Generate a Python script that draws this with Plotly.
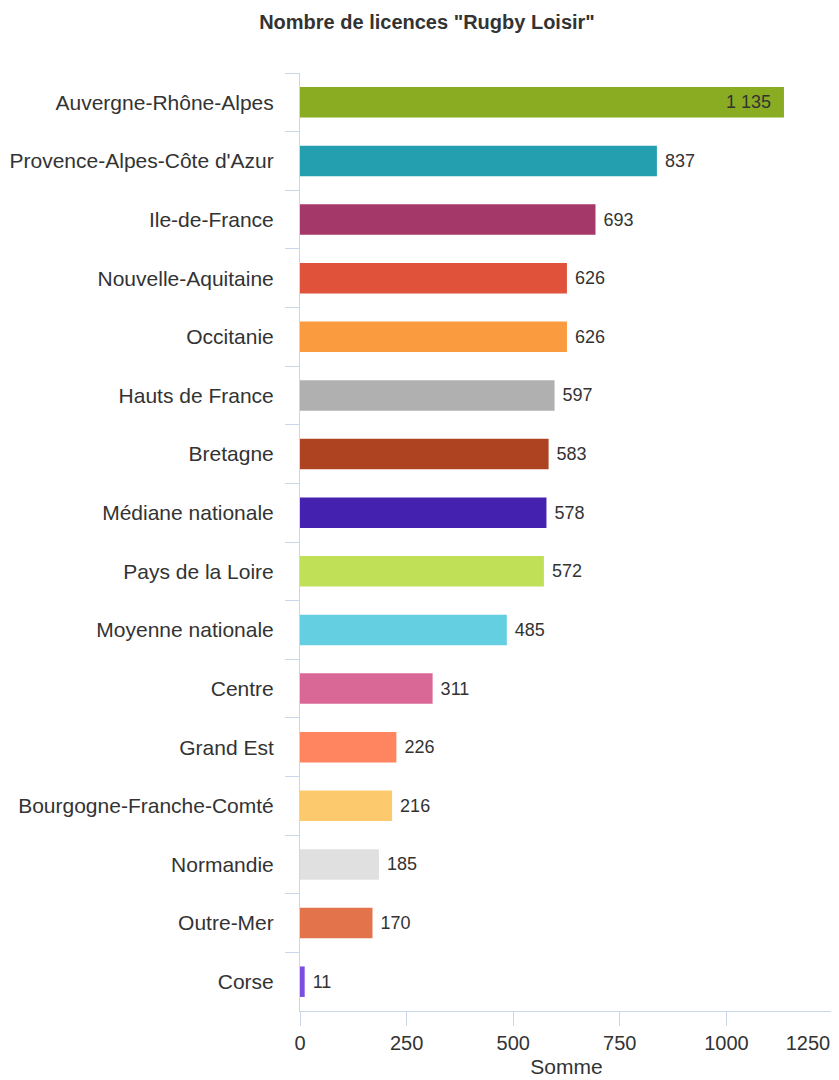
import plotly.graph_objects as go

categories = [
    "Auvergne-Rhône-Alpes", "Provence-Alpes-Côte d'Azur", "Ile-de-France",
    "Nouvelle-Aquitaine", "Occitanie", "Hauts de France", "Bretagne",
    "Médiane nationale", "Pays de la Loire", "Moyenne nationale", "Centre",
    "Grand Est", "Bourgogne-Franche-Comté", "Normandie", "Outre-Mer", "Corse",
]
values = [1135, 837, 693, 626, 626, 597, 583, 578, 572, 485, 311, 226, 216, 185, 170, 11]
colors = [
    "#8aac23", "#239fb0", "#a43868", "#e0523a", "#f99b3e", "#b0b0b0", "#ae4322",
    "#4421ae", "#c0e058", "#64cfe0", "#d96896", "#ff8561", "#fdc96d", "#e0e0e0",
    "#e2734b", "#7b4ee0",
]
x_ticks = [0, 250, 500, 750, 1000, 1250]

def fmt(v):
    return f"{v:,}".replace(",", " ")

NB = "\u00a0"
texts = []
positions = []
for v in values:
    if v > 1000:
        texts.append(fmt(v) + NB * 2)
        positions.append("inside")
    else:
        texts.append(NB + fmt(v))
        positions.append("outside")

x_ticktext = [str(t) for t in x_ticks]
x_ticktext[-1] = x_ticktext[-1] + NB * 9

axis_col = "#ccd6eb"
txt_col = "#333333"
FONT = "Liberation Sans, Arial, sans-serif"

# page body has an 8px default margin; figure is sized to fit the window
W, H = 831, 1072

fig = go.Figure(go.Bar(
    x=values, y=categories, orientation="h",
    marker=dict(color=colors, line=dict(width=0)),
    width=0.52,
    text=texts, textposition=positions,
    insidetextanchor="end",
    textfont=dict(size=18, color=txt_col, family=FONT),
    insidetextfont=dict(size=18, color=txt_col, family=FONT),
    outsidetextfont=dict(size=18, color=txt_col, family=FONT),
    cliponaxis=False,
    hoverinfo="x+y",
))

fig.update_layout(
    width=W, height=H,
    margin=dict(l=292, r=6, t=65, b=69, autoexpand=False),
    paper_bgcolor="white", plot_bgcolor="white",
    font=dict(family=FONT, color=txt_col),
    title=dict(text="<b>Nombre de licences \"Rugby Loisir\"</b>", x=(427 - 8) / W, xanchor="center",
               y=1 - 14 / H, yanchor="middle",
               font=dict(size=20, color=txt_col, family=FONT)),
    showlegend=False,
    bargap=0.48,
)
fig.update_xaxes(
    range=[0, 1250.001], tickvals=x_ticks, ticktext=x_ticktext,
    showgrid=False, zeroline=False, automargin=False,
    ticklabeloverflow="allow",
    showline=True, linecolor=axis_col, linewidth=1,
    ticks="outside", ticklen=14, tickcolor=axis_col, tickwidth=1,
    tickfont=dict(size=20, color=txt_col, family=FONT),
    title=dict(text="Somme", font=dict(size=21, color=txt_col, family=FONT), standoff=6),
)
fig.update_yaxes(
    autorange="reversed", type="category",
    showgrid=False, zeroline=False, automargin=False,
    showline=True, linecolor=axis_col, linewidth=1,
    ticks="outside", ticklen=14, tickcolor=axis_col, tickwidth=1, tickson="boundaries",
    tickfont=dict(size=21, color=txt_col, family=FONT),
    ticklabelstandoff=21,
)

fig.write_html("out.html")
